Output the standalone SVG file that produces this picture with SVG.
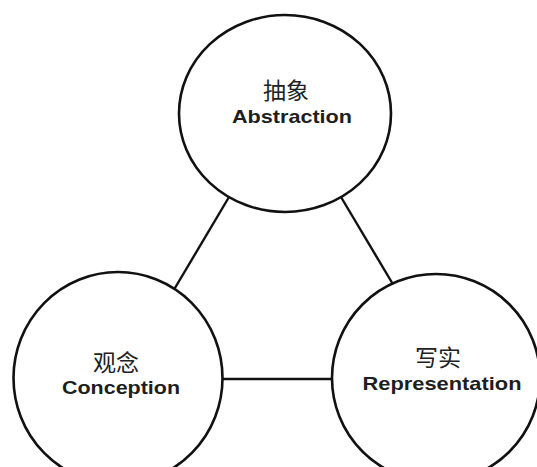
<svg xmlns="http://www.w3.org/2000/svg" width="537" height="467" viewBox="0 0 537 467">
<style>
.node{fill:#fff;stroke:#111;stroke-width:2.6}
.edge{stroke:#111;stroke-width:2.4;fill:none}
.zh{font-family:"Noto Sans CJK SC","Noto Sans CJK JP",sans-serif;font-size:23px;fill:#222;text-anchor:middle}
.en{font-family:"Liberation Sans",Arial,sans-serif;font-size:19px;font-weight:bold;fill:#1e1e1e;text-anchor:middle}
</style>
<rect width="537" height="467" fill="#fff"/>
<g id="connectors">
<line class="edge" x1="232" y1="192" x2="172" y2="293"/>
<line class="edge" x1="338" y1="192" x2="394" y2="286"/>
<line class="edge" x1="215" y1="379" x2="340" y2="379"/>
</g>
<g id="abstraction">
<ellipse class="node" cx="285" cy="113.5" rx="106" ry="98.5"/>
<text class="zh" x="286" y="99">抽象</text>
<text class="en" x="292" y="123" textLength="120" lengthAdjust="spacingAndGlyphs">Abstraction</text>
</g>
<g id="conception">
<ellipse class="node" cx="118" cy="378" rx="104.5" ry="106"/>
<text class="zh" x="116" y="371">观念</text>
<text class="en" x="121" y="394" textLength="118" lengthAdjust="spacingAndGlyphs">Conception</text>
</g>
<g id="representation">
<ellipse class="node" cx="436" cy="378" rx="104" ry="104"/>
<text class="zh" x="438" y="366">写实</text>
<text class="en" x="442" y="390" textLength="159" lengthAdjust="spacingAndGlyphs">Representation</text>
</g>
</svg>
